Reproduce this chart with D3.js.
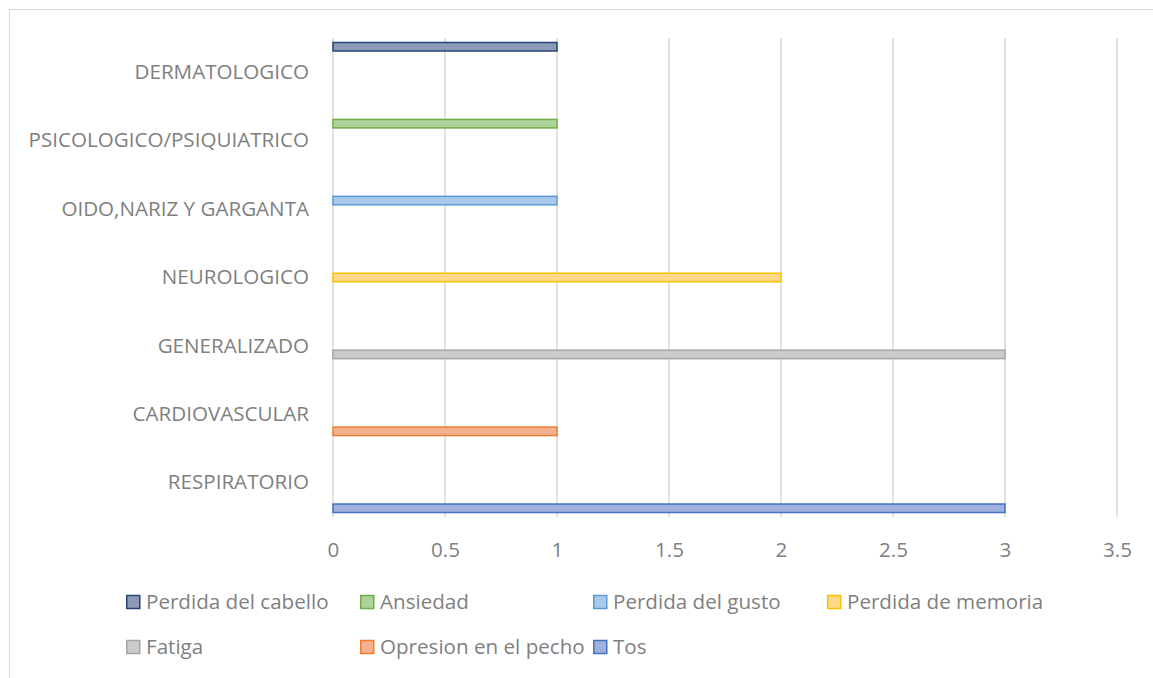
<!DOCTYPE html>
<meta charset="utf-8">
<script src="https://d3js.org/d3.v7.min.js"></script>
<style>
  body { margin: 0; background: #fff; }
  text { font-family: "Open Sans", Lato, sans-serif; fill: #7f7f7f; }
</style>
<body>
<div id="my_dataviz"></div>
<script>
// categories, bottom to top as in the chart
var categories = ["RESPIRATORIO", "CARDIOVASCULAR", "GENERALIZADO", "NEUROLOGICO",
                  "OIDO,NARIZ Y GARGANTA", "PSICOLOGICO/PSIQUIATRICO", "DERMATOLOGICO"];
var seriesNames = ["Tos", "Opresion en el pecho", "Fatiga", "Perdida de memoria",
                   "Perdida del gusto", "Ansiedad", "Perdida del cabello"];
var tos       = [3, 0, 0, 0, 0, 0, 0];
var opresion  = [0, 1, 0, 0, 0, 0, 0];
var fatiga    = [0, 0, 3, 0, 0, 0, 0];
var memoria   = [0, 0, 0, 2, 0, 0, 0];
var gusto     = [0, 0, 0, 0, 1, 0, 0];
var ansiedad  = [0, 0, 0, 0, 0, 1, 0];
var cabello   = [0, 0, 0, 0, 0, 0, 1];
var xTicks = [0, 0.5, 1, 1.5, 2, 2.5, 3, 3.5];
var legendOrder = ["Perdida del cabello", "Ansiedad", "Perdida del gusto", "Perdida de memoria",
                   "Fatiga", "Opresion en el pecho", "Tos"];

var values = [tos, opresion, fatiga, memoria, gusto, ansiedad, cabello];
var strokes = ["#4472C4", "#ED7D31", "#A5A5A5", "#FFC000", "#5B9BD5", "#70AD47", "#264478"];
var fills   = ["#9DB0DE", "#F5B08F", "#CBCBCB", "#FFD98A", "#A9C9EA", "#AED39A", "#8E9BB8"];

var width = 1153, height = 678;
var plot = {left: 333, right: 1117, top: 38, bottom: 517};
var font = "'Open Sans', Lato, sans-serif";
var fontSize = "20.6px";

var svg = d3.select("#my_dataviz")
  .append("svg")
    .attr("width", width)
    .attr("height", height);

// chart border
svg.append("rect")
  .attr("x", 9.5).attr("y", 9.5)
  .attr("width", 1200).attr("height", 700)
  .attr("fill", "none")
  .attr("stroke", "#d9d9d9")
  .attr("stroke-width", 1);

var x = d3.scaleLinear()
  .domain([0, 3.5])
  .range([plot.left, plot.right]);

var y = d3.scaleBand()
  .domain(categories.slice().reverse())
  .range([plot.top, plot.bottom])
  .padding(0);

var ySub = d3.scaleBand()
  .domain(seriesNames.slice().reverse())
  .range([0, y.bandwidth()])
  .paddingInner(0)
  .paddingOuter(0.53);

// gridlines
svg.append("g")
  .selectAll("line")
  .data(xTicks)
  .enter()
  .append("line")
    .attr("x1", function (d) { return x(d); })
    .attr("x2", function (d) { return x(d); })
    .attr("y1", plot.top)
    .attr("y2", plot.bottom)
    .attr("stroke", "#d9d9d9")
    .attr("stroke-width", 1.5);

// x axis labels
var xAxis = svg.append("g")
  .attr("transform", "translate(0," + 550 + ")")
  .call(d3.axisBottom(x).tickValues(xTicks).tickSize(0).tickPadding(0)
        .tickFormat(function (d) { return String(d); }));
xAxis.select(".domain").remove();
xAxis.selectAll("text")
  .attr("dy", "0.35em")
  .style("font-size", fontSize)
  .style("fill", "#7f7f7f")
  .style("font-family", font);

// category labels
var yAxis = svg.append("g")
  .attr("transform", "translate(309,0)")
  .call(d3.axisLeft(y).tickSize(0).tickPadding(0));
yAxis.select(".domain").remove();
yAxis.selectAll("text")
  .style("font-size", fontSize)
  .style("fill", "#7f7f7f")
  .style("font-family", font);

// bars
var bars = [];
seriesNames.forEach(function (s, i) {
  values[i].forEach(function (v, j) {
    if (v > 0) bars.push({series: s, idx: i, cat: categories[j], value: v});
  });
});

svg.append("g")
  .selectAll("rect")
  .data(bars)
  .enter()
  .append("rect")
    .attr("x", x(0))
    .attr("y", function (d) { return y(d.cat) + ySub(d.series); })
    .attr("width", function (d) { return x(d.value) - x(0); })
    .attr("height", ySub.bandwidth())
    .attr("fill", function (d) { return fills[d.idx]; })
    .attr("stroke", function (d) { return strokes[d.idx]; })
    .attr("stroke-width", 1.5);

// legend
var legendX = [126, 360, 593, 827];
var legendY = [602, 647];
var legend = svg.append("g")
  .selectAll("g")
  .data(legendOrder)
  .enter()
  .append("g")
    .attr("transform", function (d, i) {
      return "translate(" + legendX[i % 4] + "," + legendY[Math.floor(i / 4)] + ")";
    });

legend.append("rect")
  .attr("x", 0.75).attr("y", -6.5)
  .attr("width", 13).attr("height", 13)
  .attr("fill", function (d) { return fills[seriesNames.indexOf(d)]; })
  .attr("stroke", function (d) { return strokes[seriesNames.indexOf(d)]; })
  .attr("stroke-width", 1.5);

legend.append("text")
  .attr("x", 20)
  .attr("y", 0)
  .attr("dy", "0.35em")
  .style("font-size", fontSize)
  .text(function (d) { return d; });
</script>
</body>
